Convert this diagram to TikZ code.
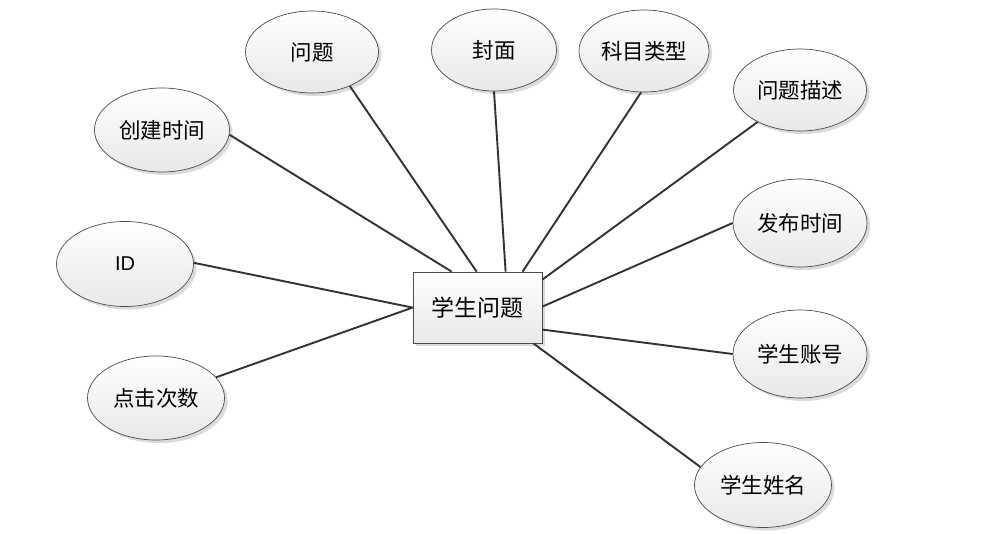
\documentclass[tikz,border=0pt]{standalone}
\usepackage{fontspec}
\newfontfamily\cjk{Noto Sans CJK SC}
\newfontfamily\lat{Liberation Sans}
\usetikzlibrary{shapes.geometric,shadows,calc}
\begin{document}
\begin{tikzpicture}[x=1pt,y=-1pt,
  attr/.style={ellipse, draw=black!70, line width=0.7pt, top color=white, bottom color=black!9,
    minimum width=133pt, minimum height=82pt, inner sep=0pt,
    font=\cjk\fontsize{21.5}{25}\selectfont,
    drop shadow={shadow xshift=3pt, shadow yshift=-3pt, fill=black!14, opacity=1}},
  ent/.style={rectangle, draw=black!70, line width=0.8pt, top color=white, bottom color=black!9,
    minimum width=129pt, minimum height=71pt, inner sep=0pt,
    font=\cjk\fontsize{23}{27}\selectfont,
    drop shadow={shadow xshift=3pt, shadow yshift=-3pt, fill=black!14, opacity=1}},
  link/.style={draw=black!80, line width=1.9pt}]
\useasboundingbox (0,0) rectangle (982,534);
\fill[white] (0,0) rectangle (982,534);

\node[attr] (a1) at (312,52) {问题};
\node[attr, minimum width=125pt] (a2) at (494,50) {封面};
\node[attr, minimum width=130pt] (a3) at (644,51) {科目类型};
\node[attr] (a4) at (800,90) {问题描述};
\node[attr, minimum width=135pt, minimum height=84pt] (a5) at (162,130) {创建时间};
\node[attr, minimum width=137pt, minimum height=85pt, font=\lat\fontsize{20}{24}\selectfont] (a6) at (125,264) {ID};
\node[attr, minimum width=134pt, minimum height=88pt] (a7) at (800,223) {发布时间};
\node[attr, minimum width=134pt, minimum height=88pt] (a8) at (800,354) {学生账号};
\node[attr, minimum width=137pt, minimum height=84pt] (a9) at (156,398) {点击次数};
\node[attr, minimum width=137pt, minimum height=85pt] (a10) at (763,485) {学生姓名};

\node[ent] (box) at (477.5,307.5) {学生问题};

\coordinate (c5) at ($(box.north west)+(39,0)$);
\coordinate (c1) at ($(box.north west)+(64,0)$);
\coordinate (c2) at ($(box.north west)+(93,0)$);
\coordinate (c3) at ($(box.north west)+(110,0)$);
\coordinate (c4) at ($(box.north east)+(0,8)$);
\coordinate (c7) at ($(box.north east)+(0,35)$);
\coordinate (c8) at ($(box.north east)+(0,58)$);
\coordinate (c10) at ($(box.south east)+(-9,0)$);
\coordinate (c6) at ($(box.north west)+(0,36)$);

\draw[link] (a1.-42) -- (c1);
\draw[link] (a2.-90) -- (c2);
\draw[link] (a3.-94) -- (c3);
\draw[link] (a4.-143) -- (c4);
\draw[link] (a5.-4) -- (c5);
\draw[link] (a6.1) -- (c6);
\draw[link] (a7.180) -- (c7);
\draw[link] (a8.180) -- (c8);
\draw[link] (a9.19) -- (c6);
\draw[link] (a10.164) -- (c10);
\end{tikzpicture}
\end{document}
